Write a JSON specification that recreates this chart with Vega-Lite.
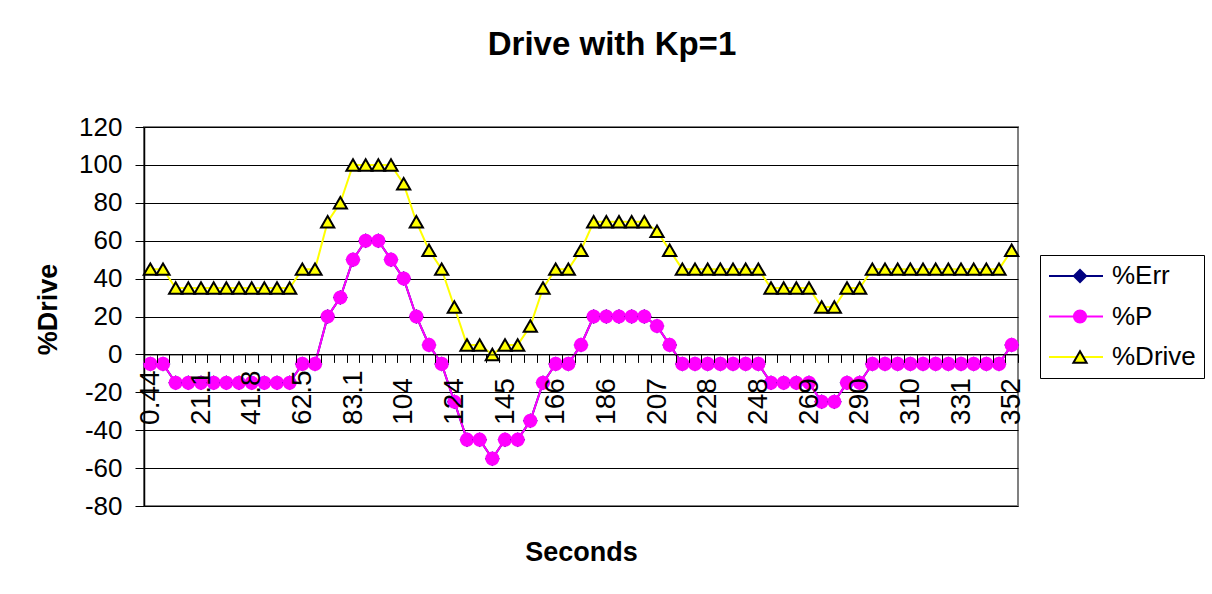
{
  "$schema": "https://vega.github.io/schema/vega-lite/v6.json",
  "width": 874,
  "height": 379,
  "autosize": {"type": "none"},
  "padding": {"left": 144, "top": 127, "right": 194, "bottom": 88},
  "background": "white",
  "title": {"text": "Drive with Kp=1", "font": "Liberation Sans", "fontSize": 33, "fontWeight": "bold", "color": "black", "anchor": "middle", "frame": "group", "dx": 31, "offset": 52},
  "data": {"values": [
    {"t": "0.44", "%Err": -5, "%P": -5, "%Drive": 45},
    {"t": "5.61", "%Err": -5, "%P": -5, "%Drive": 45},
    {"t": "10.8", "%Err": -15, "%P": -15, "%Drive": 35},
    {"t": "15.9", "%Err": -15, "%P": -15, "%Drive": 35},
    {"t": "21.1", "%Err": -15, "%P": -15, "%Drive": 35},
    {"t": "26.3", "%Err": -15, "%P": -15, "%Drive": 35},
    {"t": "31.4", "%Err": -15, "%P": -15, "%Drive": 35},
    {"t": "36.6", "%Err": -15, "%P": -15, "%Drive": 35},
    {"t": "41.8", "%Err": -15, "%P": -15, "%Drive": 35},
    {"t": "46.9", "%Err": -15, "%P": -15, "%Drive": 35},
    {"t": "52.1", "%Err": -15, "%P": -15, "%Drive": 35},
    {"t": "57.3", "%Err": -15, "%P": -15, "%Drive": 35},
    {"t": "62.5", "%Err": -5, "%P": -5, "%Drive": 45},
    {"t": "67.6", "%Err": -5, "%P": -5, "%Drive": 45},
    {"t": "72.8", "%Err": 20, "%P": 20, "%Drive": 70},
    {"t": "78", "%Err": 30, "%P": 30, "%Drive": 80},
    {"t": "83.1", "%Err": 50, "%P": 50, "%Drive": 100},
    {"t": "88.3", "%Err": 60, "%P": 60, "%Drive": 100},
    {"t": "93.5", "%Err": 60, "%P": 60, "%Drive": 100},
    {"t": "98.6", "%Err": 50, "%P": 50, "%Drive": 100},
    {"t": "104", "%Err": 40, "%P": 40, "%Drive": 90},
    {"t": "109", "%Err": 20, "%P": 20, "%Drive": 70},
    {"t": "114", "%Err": 5, "%P": 5, "%Drive": 55},
    {"t": "119", "%Err": -5, "%P": -5, "%Drive": 45},
    {"t": "124", "%Err": -25, "%P": -25, "%Drive": 25},
    {"t": "130", "%Err": -45, "%P": -45, "%Drive": 5},
    {"t": "135", "%Err": -45, "%P": -45, "%Drive": 5},
    {"t": "140", "%Err": -55, "%P": -55, "%Drive": 0},
    {"t": "145", "%Err": -45, "%P": -45, "%Drive": 5},
    {"t": "150", "%Err": -45, "%P": -45, "%Drive": 5},
    {"t": "155", "%Err": -35, "%P": -35, "%Drive": 15},
    {"t": "161", "%Err": -15, "%P": -15, "%Drive": 35},
    {"t": "166", "%Err": -5, "%P": -5, "%Drive": 45},
    {"t": "171", "%Err": -5, "%P": -5, "%Drive": 45},
    {"t": "176", "%Err": 5, "%P": 5, "%Drive": 55},
    {"t": "181", "%Err": 20, "%P": 20, "%Drive": 70},
    {"t": "186", "%Err": 20, "%P": 20, "%Drive": 70},
    {"t": "192", "%Err": 20, "%P": 20, "%Drive": 70},
    {"t": "197", "%Err": 20, "%P": 20, "%Drive": 70},
    {"t": "202", "%Err": 20, "%P": 20, "%Drive": 70},
    {"t": "207", "%Err": 15, "%P": 15, "%Drive": 65},
    {"t": "212", "%Err": 5, "%P": 5, "%Drive": 55},
    {"t": "217", "%Err": -5, "%P": -5, "%Drive": 45},
    {"t": "223", "%Err": -5, "%P": -5, "%Drive": 45},
    {"t": "228", "%Err": -5, "%P": -5, "%Drive": 45},
    {"t": "233", "%Err": -5, "%P": -5, "%Drive": 45},
    {"t": "238", "%Err": -5, "%P": -5, "%Drive": 45},
    {"t": "243", "%Err": -5, "%P": -5, "%Drive": 45},
    {"t": "248", "%Err": -5, "%P": -5, "%Drive": 45},
    {"t": "254", "%Err": -15, "%P": -15, "%Drive": 35},
    {"t": "259", "%Err": -15, "%P": -15, "%Drive": 35},
    {"t": "264", "%Err": -15, "%P": -15, "%Drive": 35},
    {"t": "269", "%Err": -15, "%P": -15, "%Drive": 35},
    {"t": "274", "%Err": -25, "%P": -25, "%Drive": 25},
    {"t": "279", "%Err": -25, "%P": -25, "%Drive": 25},
    {"t": "285", "%Err": -15, "%P": -15, "%Drive": 35},
    {"t": "290", "%Err": -15, "%P": -15, "%Drive": 35},
    {"t": "295", "%Err": -5, "%P": -5, "%Drive": 45},
    {"t": "300", "%Err": -5, "%P": -5, "%Drive": 45},
    {"t": "305", "%Err": -5, "%P": -5, "%Drive": 45},
    {"t": "310", "%Err": -5, "%P": -5, "%Drive": 45},
    {"t": "316", "%Err": -5, "%P": -5, "%Drive": 45},
    {"t": "321", "%Err": -5, "%P": -5, "%Drive": 45},
    {"t": "326", "%Err": -5, "%P": -5, "%Drive": 45},
    {"t": "331", "%Err": -5, "%P": -5, "%Drive": 45},
    {"t": "336", "%Err": -5, "%P": -5, "%Drive": 45},
    {"t": "341", "%Err": -5, "%P": -5, "%Drive": 45},
    {"t": "347", "%Err": -5, "%P": -5, "%Drive": 45},
    {"t": "352", "%Err": 5, "%P": 5, "%Drive": 55}
  ]},
  "transform": [{"fold": ["%Err", "%P", "%Drive"], "as": ["series", "value"]}],
  "encoding": {
    "x": {
      "field": "t", "type": "ordinal", "sort": null,
      "scale": {"type": "band", "paddingInner": 0, "paddingOuter": 0},
      "axis": {
        "title": "Seconds", "titleFont": "Liberation Sans", "titleFontSize": 27, "titleFontWeight": "bold", "titleColor": "black",
        "titleY": 198, "titleBaseline": "middle",
        "offset": -151.6, "labelAngle": -90, "labelAlign": "left", "labelBaseline": "middle",
        "labelFont": "Liberation Sans", "labelFontSize": 28, "labelColor": "black",
        "labelPadding": 62, "labelOverlap": false, "labelBound": false, "labelFlush": false,
        "labelExpr": "indexof(['0.44','21.1','41.8','62.5','83.1','104','124','145','166','186','207','228','248','269','290','310','331','352'], datum.label) >= 0 ? datum.label : ''",
        "tickBand": "extent", "tickSize": 8, "tickColor": "black", "tickWidth": 1,
        "domainColor": "black", "domainWidth": 1, "grid": false, "zindex": 1
      }
    },
    "y": {
      "field": "value", "type": "quantitative",
      "scale": {"domain": [-80, 120], "nice": false, "zero": false},
      "axis": {
        "title": "%Drive", "titleFont": "Liberation Sans", "titleFontSize": 27, "titleFontWeight": "bold", "titleColor": "black",
        "titleX": -96, "titleY": 182, "titleBaseline": "middle", "titleAngle": -90,
        "values": [-80, -60, -40, -20, 0, 20, 40, 60, 80, 100, 120],
        "labelExpr": "toString(datum.value)",
        "labelFont": "Liberation Sans", "labelFontSize": 26, "labelColor": "black", "labelPadding": 13,
        "labelFlush": false, "labelOverlap": false,
        "tickSize": 9, "tickColor": "black", "domainColor": "black", "domainWidth": 1.5,
        "grid": true, "gridColor": "black", "gridWidth": 1, "zindex": 0
      }
    }
  },
  "layer": [
    {
      "mark": {"type": "line", "strokeWidth": 2},
      "encoding": {
        "color": {
          "field": "series", "type": "nominal",
          "scale": {"domain": ["%Err", "%P", "%Drive"], "range": ["#000080", "#FF00FF", "#FFFF00"]},
          "legend": {
            "orient": "none", "legendX": 896, "legendY": 128, "title": null,
            "symbolType": "stroke", "symbolSize": 2916, "symbolStrokeWidth": 2,
            "strokeColor": "black", "padding": 8, "clipHeight": 26, "rowPadding": 14.5,
            "labelFont": "Liberation Sans", "labelFontSize": 26, "labelColor": "black", "labelOffset": 8, "labelLimit": 300
          }
        }
      }
    },
    {
      "mark": {"type": "point", "filled": true, "opacity": 1, "strokeWidth": 2},
      "encoding": {
        "shape": {
          "field": "series", "type": "nominal",
          "scale": {"domain": ["%Err", "%P", "%Drive", "~"], "range": ["diamond", "circle", "triangle-up", "circle"]},
          "legend": {
            "orient": "none", "legendX": 896, "legendY": 128, "title": null,
            "values": ["%Err", "%P", "%Drive"],
            "padding": 8, "clipHeight": 26, "rowPadding": 14.5, "symbolOffset": 19,
            "symbolStrokeWidth": 2, "symbolOpacity": 1,
            "labelFont": "Liberation Sans", "labelFontSize": 26, "labelExpr": "''", "labelOffset": 8
          }
        },
        "fill": {
          "field": "series", "type": "nominal",
          "scale": {"domain": ["%Err", "%P", "%Drive", "~"], "range": ["#000080", "#FF00FF", "#FFFF00", "#FFFFFF"]},
          "legend": {
            "orient": "none", "legendX": 896, "legendY": 128, "title": null,
            "values": ["%Err", "%P", "%Drive"],
            "padding": 8, "clipHeight": 26, "rowPadding": 14.5, "symbolOffset": 19,
            "symbolStrokeWidth": 2, "symbolOpacity": 1,
            "labelFont": "Liberation Sans", "labelFontSize": 26, "labelExpr": "''", "labelOffset": 8
          }
        },
        "stroke": {
          "field": "series", "type": "nominal",
          "scale": {"domain": ["%Err", "%P", "%Drive", "~"], "range": ["transparent", "transparent", "black", "transparent"]},
          "legend": {
            "orient": "none", "legendX": 896, "legendY": 128, "title": null,
            "values": ["%Err", "%P", "%Drive"],
            "padding": 8, "clipHeight": 26, "rowPadding": 14.5, "symbolOffset": 19,
            "symbolStrokeWidth": 2, "symbolOpacity": 1,
            "labelFont": "Liberation Sans", "labelFontSize": 26, "labelExpr": "''", "labelOffset": 8
          }
        },
        "size": {
          "field": "series", "type": "nominal",
          "scale": {"domain": ["%Err", "%P", "%Drive", "~"], "range": [225, 150, 256, 100]},
          "legend": {
            "orient": "none", "legendX": 896, "legendY": 128, "title": null,
            "values": ["%Err", "%P", "%Drive"],
            "padding": 8, "clipHeight": 26, "rowPadding": 14.5, "symbolOffset": 19,
            "symbolStrokeWidth": 2, "symbolOpacity": 1,
            "labelFont": "Liberation Sans", "labelFontSize": 26, "labelExpr": "''", "labelOffset": 8
          }
        }
      }
    }
  ],
  "config": {
    "font": "Liberation Sans",
    "view": {"stroke": "#808080", "strokeWidth": 2}
  }
}
